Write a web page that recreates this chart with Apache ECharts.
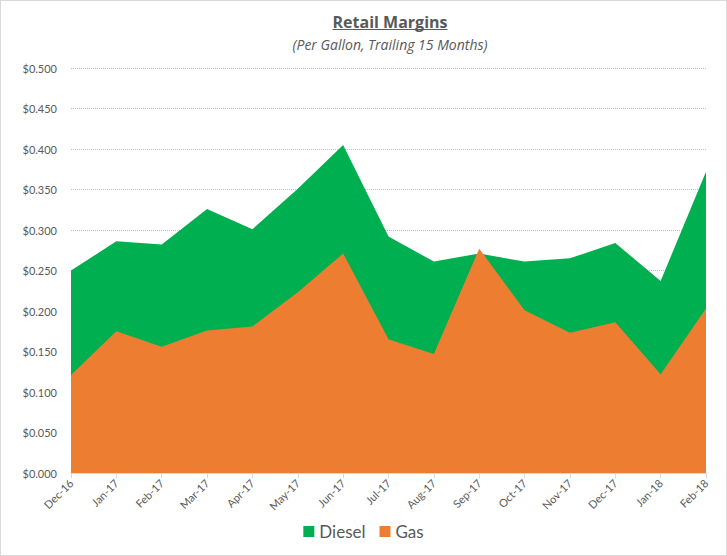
<!DOCTYPE html>
<html>
<head>
<meta charset="utf-8">
<script src="https://cdn.jsdelivr.net/npm/echarts@6/dist/echarts.min.js"></script>
<style>
html,body{margin:0;padding:0;background:#fff;}
#c{width:725px;height:554px;border:1px solid #d9d9d9;}
</style>
</head>
<body>
<div id="c"></div>
<script>
const categories = ['Dec-16','Jan-17','Feb-17','Mar-17','Apr-17','May-17','Jun-17','Jul-17','Aug-17','Sep-17','Oct-17','Nov-17','Dec-17','Jan-18','Feb-18'];
const diesel = [0.250,0.286,0.282,0.326,0.301,0.351,0.405,0.292,0.261,0.271,0.261,0.265,0.284,0.237,0.372];
const gas = [0.121,0.175,0.156,0.176,0.181,0.223,0.271,0.165,0.147,0.277,0.201,0.173,0.186,0.122,0.203];
const seriesNames = ['Diesel','Gas'];
const colors = ['#00B050','#ED7D31'];
const titleText = 'Retail Margins';
const subtitleText = '(Per Gallon, Trailing 15 Months)';

const FONT = 'Lato, "Open Sans", sans-serif';
const TITLE_FONT = 'bold 16px "Open Sans"';
const SUB_FONT = 'italic 14px "Open Sans"';
const cx = 389;

const mctx = document.createElement('canvas').getContext('2d');
mctx.font = TITLE_FONT;
const tw = mctx.measureText(titleText).width;

const chart = echarts.init(document.getElementById('c'), null, {renderer:'svg'});
chart.setOption({
  animation:false,
  color: colors,
  graphic: [
    {type: 'text', x: cx, y: 21,
     style: {text: titleText, font: TITLE_FONT, fill: '#595959', align: 'center', verticalAlign: 'middle'}},
    {type: 'line', shape: {x1: cx - tw/2, y1: 28.5, x2: cx + tw/2, y2: 28.5},
     style: {stroke: '#595959', lineWidth: 1}},
    {type: 'text', x: cx, y: 43,
     style: {text: subtitleText, font: SUB_FONT, fill: '#595959', align: 'center', verticalAlign: 'middle'}}
  ],
  legend: {
    data: seriesNames,
    bottom: 10,
    left: 'center',
    itemWidth: 11,
    itemHeight: 11,
    itemGap: 14,
    icon: 'rect',
    textStyle: {fontFamily: FONT, fontSize: 17, color: '#595959'}
  },
  grid: {left: 70, right: 20, top: 67, bottom: 82},
  xAxis: {
    type: 'category',
    data: categories,
    boundaryGap: false,
    axisLine: {lineStyle: {color: '#d9d9d9'}},
    axisTick: {show: true, length: 5, lineStyle: {color: '#d9d9d9'}},
    axisLabel: {rotate: 45, fontFamily: FONT, fontSize: 11, color: '#595959', margin: 8}
  },
  yAxis: {
    type: 'value',
    min: 0, max: 0.5, interval: 0.05,
    axisLine: {show: false},
    axisTick: {show: false},
    splitLine: {lineStyle: {color: '#bfbfbf', type: 'dotted'}},
    axisLabel: {fontFamily: FONT, fontSize: 11, color: '#595959', margin: 14,
      formatter: v => '$' + v.toFixed(3)}
  },
  series: [
    {name: seriesNames[0], type: 'line', data: diesel, symbol: 'none',
     lineStyle: {width: 0}, areaStyle: {color: colors[0], opacity: 1}},
    {name: seriesNames[1], type: 'line', data: gas, symbol: 'none',
     lineStyle: {width: 0}, areaStyle: {color: colors[1], opacity: 1}}
  ]
});
</script>
</body>
</html>
